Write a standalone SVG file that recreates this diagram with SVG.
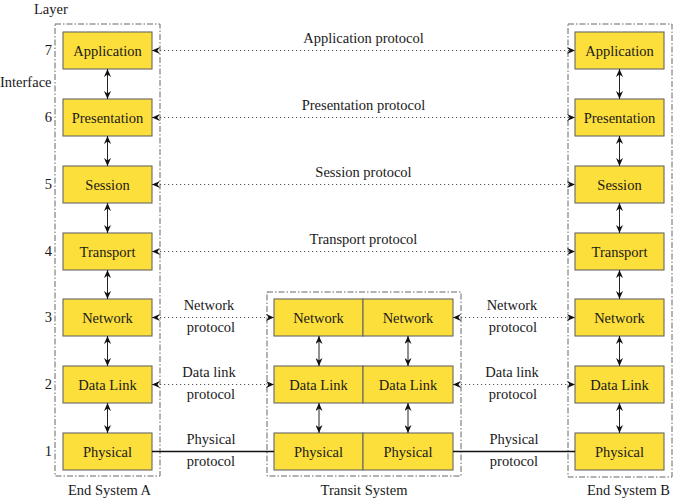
<svg xmlns="http://www.w3.org/2000/svg" width="678" height="500" viewBox="0 0 678 500">
<defs>
<marker id="ah" viewBox="0 0 8 7" refX="8" refY="3.5" markerWidth="8" markerHeight="7" markerUnits="userSpaceOnUse" orient="auto-start-reverse">
<path d="M0,0 L8,3.5 L0,7 L2.6,3.5 Z" fill="#111"/>
</marker>
<style>
.box{fill:#FDDF3B;stroke:#666;stroke-width:1.1}
.cont{fill:none;stroke:#555;stroke-width:0.9;stroke-dasharray:6 2 1.5 2}
.t{font-family:"Liberation Serif","Times New Roman",serif;font-size:14.5px;fill:#1a1a1a}
.m{text-anchor:middle}
.e{text-anchor:end}
.dot{fill:none;stroke:#555;stroke-width:1;stroke-dasharray:1.2 2.8;marker-start:url(#ah);marker-end:url(#ah)}
.v{fill:none;stroke:#222;stroke-width:1;marker-start:url(#ah);marker-end:url(#ah)}
.sol{fill:none;stroke:#111;stroke-width:1.3}
</style>
</defs>
<rect width="678" height="500" fill="#fff"/>

<g id="labels">
<text class="t" x="34" y="14">Layer</text>
<text class="t" x="0" y="87">Interface</text>
<text class="t e" x="52" y="55">7</text>
<text class="t e" x="52" y="122">6</text>
<text class="t e" x="52" y="189">5</text>
<text class="t e" x="52" y="256">4</text>
<text class="t e" x="52" y="322">3</text>
<text class="t e" x="52" y="389">2</text>
<text class="t e" x="52" y="456">1</text>
</g>

<g id="endSystemA">
<rect class="cont" x="55" y="24" width="105" height="452"/>
<text class="t m" x="109.5" y="495">End System A</text>
<g id="a7"><rect class="box" x="63" y="32" width="89" height="37"/><text class="t m" x="107.5" y="55.5">Application</text></g>
<g id="a6"><rect class="box" x="63" y="99" width="89" height="37"/><text class="t m" x="107.5" y="122.5">Presentation</text></g>
<g id="a5"><rect class="box" x="63" y="166" width="89" height="37"/><text class="t m" x="107.5" y="189.5">Session</text></g>
<g id="a4"><rect class="box" x="63" y="233" width="89" height="37"/><text class="t m" x="107.5" y="256.5">Transport</text></g>
<g id="a3"><rect class="box" x="63" y="299" width="89" height="37"/><text class="t m" x="107.5" y="322.5">Network</text></g>
<g id="a2"><rect class="box" x="63" y="366" width="89" height="37"/><text class="t m" x="107.5" y="389.5">Data Link</text></g>
<g id="a1"><rect class="box" x="63" y="433" width="89" height="37"/><text class="t m" x="107.5" y="456.5">Physical</text></g>
</g>

<g id="transitSystem">
<rect class="cont" x="267" y="292" width="194" height="184"/>
<text class="t m" x="364" y="495">Transit System</text>
<g id="t3a"><rect class="box" x="274" y="299" width="89" height="37"/><text class="t m" x="318.5" y="322.5">Network</text></g>
<g id="t3b"><rect class="box" x="363" y="299" width="90" height="37"/><text class="t m" x="408" y="322.5">Network</text></g>
<g id="t2a"><rect class="box" x="274" y="366" width="89" height="37"/><text class="t m" x="318.5" y="389.5">Data Link</text></g>
<g id="t2b"><rect class="box" x="363" y="366" width="90" height="37"/><text class="t m" x="408" y="389.5">Data Link</text></g>
<g id="t1a"><rect class="box" x="274" y="433" width="89" height="37"/><text class="t m" x="318.5" y="456.5">Physical</text></g>
<g id="t1b"><rect class="box" x="363" y="433" width="90" height="37"/><text class="t m" x="408" y="456.5">Physical</text></g>
</g>

<g id="endSystemB">
<rect class="cont" x="568" y="24" width="104" height="453"/>
<text class="t m" x="628.5" y="495">End System B</text>
<g id="b7"><rect class="box" x="575" y="32" width="89" height="37"/><text class="t m" x="619.5" y="55.5">Application</text></g>
<g id="b6"><rect class="box" x="575" y="99" width="89" height="37"/><text class="t m" x="619.5" y="122.5">Presentation</text></g>
<g id="b5"><rect class="box" x="575" y="166" width="89" height="37"/><text class="t m" x="619.5" y="189.5">Session</text></g>
<g id="b4"><rect class="box" x="575" y="233" width="89" height="37"/><text class="t m" x="619.5" y="256.5">Transport</text></g>
<g id="b3"><rect class="box" x="575" y="299" width="89" height="37"/><text class="t m" x="619.5" y="322.5">Network</text></g>
<g id="b2"><rect class="box" x="575" y="366" width="89" height="37"/><text class="t m" x="619.5" y="389.5">Data Link</text></g>
<g id="b1"><rect class="box" x="575" y="433" width="89" height="37"/><text class="t m" x="619.5" y="456.5">Physical</text></g>
</g>

<g id="connectors">
<line class="dot" x1="152" y1="50.5" x2="575" y2="50.5"/>
<line class="dot" x1="152" y1="117.5" x2="575" y2="117.5"/>
<line class="dot" x1="152" y1="184.5" x2="575" y2="184.5"/>
<line class="dot" x1="152" y1="251.5" x2="575" y2="251.5"/>
<line class="dot" x1="152" y1="317.5" x2="274" y2="317.5"/>
<line class="dot" x1="453" y1="317.5" x2="575" y2="317.5"/>
<line class="dot" x1="152" y1="384.5" x2="274" y2="384.5"/>
<line class="dot" x1="453" y1="384.5" x2="575" y2="384.5"/>
<line class="sol" x1="152" y1="451.5" x2="274" y2="451.5"/>
<line class="sol" x1="453" y1="451.5" x2="575" y2="451.5"/>

<line class="v" x1="107.5" y1="69" x2="107.5" y2="99"/>
<line class="v" x1="107.5" y1="136" x2="107.5" y2="166"/>
<line class="v" x1="107.5" y1="203" x2="107.5" y2="233"/>
<line class="v" x1="107.5" y1="270" x2="107.5" y2="299"/>
<line class="v" x1="107.5" y1="336" x2="107.5" y2="366"/>
<line class="v" x1="107.5" y1="403" x2="107.5" y2="433"/>

<line class="v" x1="619.5" y1="69" x2="619.5" y2="99"/>
<line class="v" x1="619.5" y1="136" x2="619.5" y2="166"/>
<line class="v" x1="619.5" y1="203" x2="619.5" y2="233"/>
<line class="v" x1="619.5" y1="270" x2="619.5" y2="299"/>
<line class="v" x1="619.5" y1="336" x2="619.5" y2="366"/>
<line class="v" x1="619.5" y1="403" x2="619.5" y2="433"/>

<line class="v" x1="319" y1="336" x2="319" y2="366"/>
<line class="v" x1="319" y1="403" x2="319" y2="433"/>
<line class="v" x1="408" y1="336" x2="408" y2="366"/>
<line class="v" x1="408" y1="403" x2="408" y2="433"/>
</g>

<g id="protocolLabels">
<text class="t m" x="363.5" y="43">Application protocol</text>
<text class="t m" x="363.5" y="110">Presentation protocol</text>
<text class="t m" x="363.5" y="177">Session protocol</text>
<text class="t m" x="363.5" y="244">Transport protocol</text>
<text class="t m" x="209" y="310">Network</text>
<text class="t m" x="211" y="332">protocol</text>
<text class="t m" x="512" y="310">Network</text>
<text class="t m" x="513" y="332">protocol</text>
<text class="t m" x="209" y="377">Data link</text>
<text class="t m" x="211" y="399">protocol</text>
<text class="t m" x="512" y="377">Data link</text>
<text class="t m" x="513" y="399">protocol</text>
<text class="t m" x="211" y="444">Physical</text>
<text class="t m" x="211" y="466">protocol</text>
<text class="t m" x="514" y="444">Physical</text>
<text class="t m" x="514" y="466">protocol</text>
</g>
</svg>
